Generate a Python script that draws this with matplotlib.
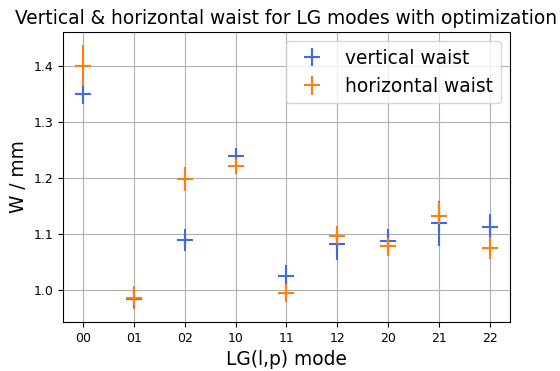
import numpy as np
import matplotlib.pyplot as plt

modes = ['00', '01', '02', '10', '11', '12', '20', '21', '22']

w_vert = [1.351, 0.985, 1.090, 1.240, 1.025, 1.082, 1.089, 1.120, 1.113]
w_vert_err = [0.019, 0.018, 0.020, 0.013, 0.020, 0.027, 0.020, 0.040, 0.024]

w_hor = [1.400, 0.987, 1.199, 1.222, 0.995, 1.097, 1.079, 1.132, 1.076]
w_hor_err = [0.038, 0.020, 0.022, 0.011, 0.016, 0.018, 0.018, 0.026, 0.020]

x = np.arange(len(modes))

fig = plt.figure(figsize=(5.6, 3.71), dpi=100)
ax = fig.add_axes([0.1125, 0.132, 0.798, 0.782])

ax.errorbar(x, w_vert, yerr=w_vert_err, fmt='+', color='royalblue',
            markersize=11.5, markeredgewidth=1.5, elinewidth=1.5,
            label='vertical waist')
ax.errorbar(x, w_hor, yerr=w_hor_err, fmt='+', color='tab:orange',
            markersize=11.5, markeredgewidth=1.5, elinewidth=1.5,
            label='horizontal waist')

ax.set_xticks(x)
ax.set_xticklabels(modes)
ax.tick_params(labelsize=9)
ax.grid(True)
ax.set_xlabel('LG(l,p) mode', fontsize=13.4)
ax.set_ylabel('W / mm', fontsize=13.4)
ax.set_title('Vertical & horizontal waist for LG modes with optimization', fontsize=13.4)
ax.legend(fontsize=13.4)

fig.savefig('out.png', dpi=100)
